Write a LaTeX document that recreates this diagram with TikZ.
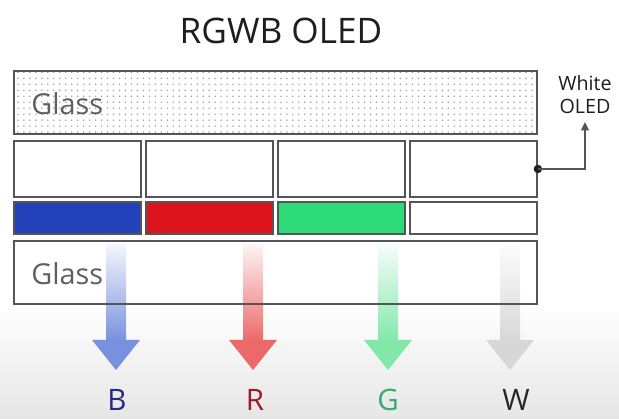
\documentclass[tikz,border=0pt]{standalone}
\usepackage{fontspec}
\setmainfont{Open Sans}
\usepackage{tikz}
\usetikzlibrary{positioning,arrows.meta,patterns.meta}

\definecolor{lineGray}{RGB}{85,85,85}
\definecolor{titleGray}{RGB}{30,30,30}
\definecolor{glassGray}{RGB}{95,95,95}
\definecolor{dotGray}{RGB}{160,160,160}
\definecolor{bgGray}{RGB}{230,230,230}
% subpixel colours
\definecolor{oledB}{RGB}{35,65,185}
\definecolor{oledR}{RGB}{220,20,30}
\definecolor{oledG}{RGB}{45,220,120}
\definecolor{oledW}{RGB}{255,255,255}
% light going out
\definecolor{arrB}{RGB}{120,145,222}
\definecolor{arrR}{RGB}{236,105,105}
\definecolor{arrG}{RGB}{130,232,170}
\definecolor{arrW}{RGB}{215,215,215}
\definecolor{txtB}{RGB}{35,45,125}
\definecolor{txtR}{RGB}{160,25,45}
\definecolor{txtG}{RGB}{60,170,110}
\definecolor{txtW}{RGB}{40,40,40}

\begin{document}
\begin{tikzpicture}[x=0.025cm, y=-0.025cm, >={Triangle[length=6pt,width=5.5pt]},
  layer/.style 2 args={draw=lineGray, line width=1.3pt, inner sep=0pt,
    minimum width=#1*0.025cm, minimum height=#2*0.025cm},
  glassTxt/.style={inner sep=0pt, anchor=base west, text=glassGray,
    font=\fontsize{20.5}{25}\selectfont},
  lbl/.style={font=\fontsize{21}{25}\selectfont}]
\useasboundingbox (0,0) rectangle (619,419);

% floor
\shade[top color=white, bottom color=bgGray] (0,305) rectangle (619,419);

\node[text=titleGray, font=\fontsize{25}{30}\selectfont] (title) at (281,31) {RGWB OLED};

% glass on top
\node[layer={523}{63}, fill=white,
  pattern={Dots[distance=4.25pt, radius=0.6pt]}, pattern color=dotGray] (glassTop) at (275.5,102.5) {};
\node[glassTxt] (glassTopTxt) at (31,115) {Glass};

% white OLED cells
\foreach \i/\x in {1/77.5,2/209.5,3/341.5,4/473.5}
  \node[layer={127}{56}, fill=white] (cell\i) at (\x,169) {};

% colour filters
\foreach \i/\x/\c in {1/77.5/oledB,2/209.5/oledR,3/341.5/oledG,4/473.5/oledW}
  \node[layer={127}{32}, fill=\c] (sub\i) at (\x,218) {};

% light out of each subpixel
\foreach \x/\c in {116/arrB,253/arrR,388/arrG,510/arrW}{
  \shade[top color=\c!8, bottom color=\c] (\x-10,245) rectangle (\x+10,341);
  \fill[\c] (\x-24,340) -- (\x+24,340) -- (\x,370) -- cycle;
}

% glass below
\node[layer={523}{63}] (glassBot) at (275.5,272.5) {};
\node[glassTxt] (glassBotTxt) at (31,285) {Glass};

% labels
\node[lbl, text=txtB] (lblB) at (117,400) {B};
\node[lbl, text=txtR] (lblR) at (255,400) {R};
\node[lbl, text=txtG] (lblG) at (388,400) {G};
\node[lbl, text=txtW] (lblW) at (516,400) {W};

\node[anchor=south, inner ysep=6pt, align=center, text=titleGray,
  font=\fontsize{14}{16.3}\selectfont] (wlabel) at (585,122) {White\\OLED};
\fill[titleGray] (cell4.east) circle (3pt);
\draw[->, lineGray, line width=1.3pt] (cell4.east) -| (wlabel.south);
\end{tikzpicture}
\end{document}
